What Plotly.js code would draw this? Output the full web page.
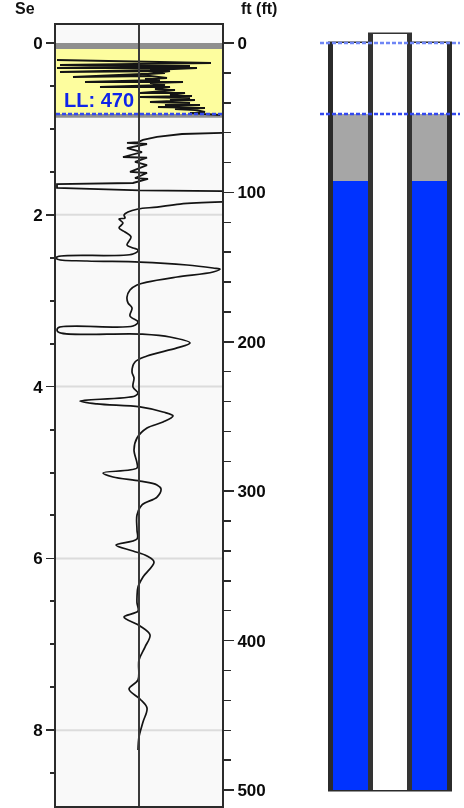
<!DOCTYPE html>
<html><head><meta charset="utf-8">
<script src="https://cdn.plot.ly/plotly-3.0.1.min.js"></script>
<style>html,body{margin:0;padding:0;background:#fff;overflow:hidden}#plot{width:464px;height:808px;filter:blur(0.5px)}</style>
</head><body><div id="plot"></div>
<script>
// upper noisy section of the log
const noiseAmp=[-82,-39,1,72,-79,51,-82,58,11,-79,31,9,26,-66,11,28,6,21,-54,44,11,26,-39,31,16,36,26,1,46,31,53,1,51,31,56,11,51,26,61,19,66,36,56,66,51,66,81];
const noiseDepth=[11.4,12,12.7,13.4,14.7,15.4,16.7,16.7,18.1,19.4,18.7,20.7,20.1,22.8,22.1,23.4,24.1,24.8,26.1,26.1,26.8,28.1,29.4,29.4,30.8,31.5,32.1,33.5,33.5,34.8,35.5,36.1,36.8,38.2,38.2,39.5,40.2,41.5,41.5,42.8,43.5,44.2,44.8,46.2,46.9,47.5,48.2];
// middle section
const midAmp=[83,43,18,4,-1,-12,8,-12,3,-16,8,-4,8,-9,8,-4,9,-1,-6,-82,-82,1,83];
const midDepth=[60.2,60.9,62.9,64.9,66.3,66.9,67.6,70.3,73,76.3,76.8,79.6,81.7,86.3,87,90.4,91,93,93.7,94.4,97,98.7,99.1];
// lower smooth section
const lowAmp=[83,41,18,-1,-11,-15,-14,-20,-16,-20,-14,-8,-12,-6,-1,-6,-82,-82,-52,1,48,74,81,74,38,8,-2,-9,-12,-11,-7,-9,-1,-6,-81,-81,1,31,51,38,8,-4,-7,-5,-6,-1,-4,-59,-42,1,24,34,24,8,-2,-5,-2,-2,-36,-26,1,18,22,18,3,-2,-2,-2,-23,-6,8,15,4,-1,-2,-2,-1,-15,1,11,6,0,-1,-10,1,8,4,0,-1];
const lowDepth=[106.4,107.8,109.8,111.1,113.1,115.1,117.1,117.8,120.5,123.8,126.5,129.8,135.2,137.2,138.5,141.2,143.2,144.6,145.9,146.6,148.6,150.6,151.3,153.3,156.6,160,162,165.3,170,174,177.4,182.7,186.7,189.4,190.7,193.4,194.8,196.8,200.8,204.1,209.5,213.5,220.2,224.2,230.2,234.3,236.3,239.6,241.6,243.6,247,249.6,253.7,257.7,264.4,272.4,281.1,284.5,287.8,290.5,293.2,295.8,298.5,303.9,309.2,315.9,325.9,332,336,340,343.4,347.4,357.4,364.1,370.8,374.8,380.2,384.2,390.2,396.2,404.3,413,426.3,432.4,439.1,445.1,454.5,464.5,473.2];
// levels (ft)
const levelTop=0, levelFluid=47.5, levelMud=92.4, levelBottom=500, tubeTop=-6;
const depthLabel="LL: 470";
const leftTitle="Se", rightTitle="ft (ft)";
const leftTicks=[0,2,4,6,8], rightTicks=[0,100,200,300,400,500];
const colDark="#2b2b2b", colBlue="#0033ff", colGrey="#a6a6a6", colDash="#3348ee";

const W=464,H=808;
const depthRange=[510.7,-12.05], meterRange=[8.882,-0.2095];
const lineT=(x,y,w,shape,sm)=>({type:'scatter',mode:'lines',x,y,xaxis:'x',yaxis:'y2',line:{color:'#141414',width:w,shape:shape||'linear',smoothing:sm||0},hoverinfo:'skip',showlegend:false});
const wb=(width,base,len,color)=>({type:'bar',x:[0],y:[len],base:[base],width:[width],xaxis:'x2',yaxis:'y3',marker:{color,line:{width:0}},hoverinfo:'skip',showlegend:false});
const dash=(xs,ys,ax,ay,col)=>({type:'scatter',mode:'lines',x:xs,y:ys,xaxis:ax,yaxis:ay,cliponaxis:false,line:{color:col,width:2.4,dash:'4px,2px'},hoverinfo:'skip',showlegend:false});

const traces=[
 {type:'scatter',mode:'lines',x:[0,0],y:[0,8],xaxis:'x',yaxis:'y',line:{width:0},hoverinfo:'skip',showlegend:false},
 lineT(noiseAmp,noiseDepth,2),
 lineT(midAmp,midDepth,1.8),
 lineT(lowAmp,lowDepth,1.7,'spline',1),
 {type:'scatter',mode:'lines',x:[0,0],y:[-12.05,510.7],xaxis:'x',yaxis:'y2',line:{color:'#3a3a3a',width:2},hoverinfo:'skip',showlegend:false},
 dash([-83,86],[levelFluid,levelFluid],'x','y2',colDash),
 wb(124,levelTop-1,levelBottom-levelTop+2,colDark),
 wb(114,levelTop,levelFluid,'#ffffff'),
 wb(114,levelFluid,levelMud-levelFluid,colGrey),
 wb(114,levelMud,levelBottom-levelMud,colBlue),
 wb(44,tubeTop-1,levelBottom-tubeTop+1,'#333333'),
 wb(34,tubeTop,levelBottom-tubeTop,'#ffffff'),
 dash([-70,70],[levelTop,levelTop],'x2','y3','#6f86f5'),
 dash([-70,70],[levelFluid,levelFluid],'x2','y3',colDash)
];
const tickFont={family:'"Liberation Sans",Arial,sans-serif',size:17,color:'#0a0a0a'};
const layout={
 width:W,height:H,margin:{l:0,r:0,t:0,b:0},paper_bgcolor:'#fff',plot_bgcolor:'#fff',showlegend:false,barmode:'overlay',
 xaxis:{domain:[56/W,222/W],range:[-83,83],showticklabels:false,ticks:'',showgrid:false,zeroline:false,showline:true,mirror:true,linecolor:colDark,linewidth:2,anchor:'y'},
 yaxis:{domain:[1-806/H,1-25/H],range:meterRange,anchor:'x',side:'left',tickmode:'array',tickvals:leftTicks,ticktext:leftTicks.map(v=>'<b>'+v+'</b>'),ticks:'outside',ticklen:8,tickwidth:1.5,tickcolor:colDark,tickfont:tickFont,showgrid:false,zeroline:false,showline:true,linecolor:colDark,linewidth:2,
   minor:{tickmode:'array',tickvals:[0.5,1,1.5,2.5,3,3.5,4.5,5,5.5,6.5,7,7.5,8.5],ticks:'outside',ticklen:4,tickwidth:2,tickcolor:colDark,showgrid:false}},
 yaxis2:{domain:[1-806/H,1-25/H],range:depthRange,anchor:'x',overlaying:'y',side:'right',tickmode:'array',tickvals:rightTicks,ticktext:rightTicks.map(v=>'<b>'+v+'</b>'),ticks:'outside',ticklen:10,tickwidth:1.5,tickcolor:colDark,tickfont:tickFont,showgrid:false,zeroline:false,showline:true,linecolor:colDark,linewidth:2,
   minor:{tickmode:'array',tickvals:[20,40,60,80,120,140,160,180,220,240,260,280,320,340,360,380,420,440,460,480],ticks:'outside',ticklen:7,tickwidth:1.5,tickcolor:colDark,showgrid:false}},
 xaxis2:{domain:[320/W,460/W],range:[-70,70],visible:false,anchor:'y3',fixedrange:true},
 yaxis3:{domain:[1-806/H,1-25/H],range:depthRange,visible:false,anchor:'x2',fixedrange:true},
 shapes:[
  {type:'rect',layer:'below',xref:'x',yref:'y2',x0:-83,x1:83,y0:-12.05,y1:510.7,fillcolor:'#f9f9f9',line:{width:0}},
  {type:'rect',layer:'below',xref:'x',yref:'y2',x0:-83,x1:83,y0:levelTop+4,y1:levelFluid,fillcolor:'#fdfd9e',line:{width:0}},
  {type:'rect',layer:'below',xref:'x',yref:'y2',x0:-83,x1:83,y0:levelTop,y1:levelTop+4,fillcolor:'#8f8f8f',line:{width:0}},
  {type:'rect',layer:'below',xref:'x',yref:'y2',x0:-83,x1:83,y0:levelFluid,y1:levelFluid+2.6,fillcolor:'#8f8f8f',line:{width:0}},
  ...[2,4,6,8].map(v=>({type:'line',layer:'below',xref:'x',yref:'y',x0:-83,x1:83,y0:v,y1:v,line:{color:'#dcdcdc',width:2}}))
 ],
 annotations:[
  {xref:'paper',yref:'paper',x:99/W,y:1-100/H,text:'<b>'+depthLabel+'</b>',showarrow:false,xanchor:'center',yanchor:'middle',font:{family:'"Liberation Sans Narrow","Liberation Sans",sans-serif',size:20,color:'#0f24ea'}},
  {xref:'paper',yref:'paper',x:25/W,y:1-8/H,text:'<b>'+leftTitle+'</b>',showarrow:false,xanchor:'center',yanchor:'middle',font:{family:'"Liberation Sans",sans-serif',size:16,color:'#111'}},
  {xref:'paper',yref:'paper',x:259/W,y:1-8/H,text:'<b>'+rightTitle+'</b>',showarrow:false,xanchor:'center',yanchor:'middle',font:{family:'"Liberation Sans",sans-serif',size:16,color:'#111'}}
 ]
};
Plotly.newPlot('plot',traces,layout,{displayModeBar:false,staticPlot:true});
</script></body></html>
